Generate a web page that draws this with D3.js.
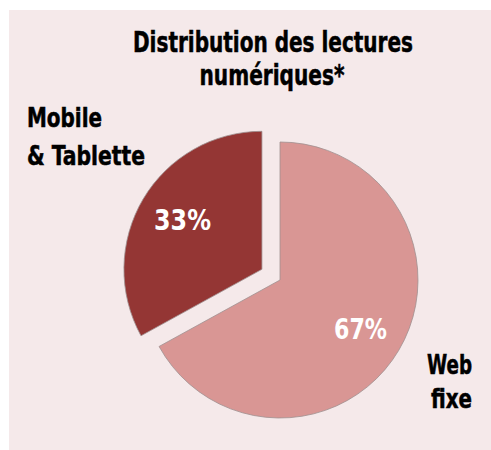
<!DOCTYPE html>
<html><head><meta charset="utf-8">
<script src="https://cdn.jsdelivr.net/npm/d3@7"></script>
<style>
html,body{margin:0;padding:0;background:#fff;}
svg{display:block;}
text{font-family:"Liberation Sans Narrow","DejaVu Sans Condensed","DejaVu Sans",sans-serif;font-weight:bold;font-stretch:condensed;}
</style></head>
<body>
<svg id="c" width="491" height="450"></svg>
<script>
const categories = ["Web fixe", "Mobile & Tablette"];
const values = [67, 33];
const valueLabels = ["67%", "33%"];
const colors = ["#d99694", "#943634"];
const titleLines = ["Distribution des lectures", "numériques*"];
const catLines = [["Web", "fixe"], ["Mobile", "& Tablette"]];

const svg = d3.select("#c");
svg.append("rect").attr("x", 9).attr("y", 10).attr("width", 490).attr("height", 440).attr("fill", "#f5e9ea");

// title
const titleSpec = [{x:273, y:52, w:280}, {x:272, y:85, w:145}];
titleLines.forEach((t, i) => {
  svg.append("text").attr("x", titleSpec[i].x).attr("y", titleSpec[i].y)
    .attr("text-anchor", "middle").attr("font-size", 28)
    .attr("stroke", "#000").attr("stroke-width", 0.5)
    .attr("textLength", titleSpec[i].w).attr("lengthAdjust", "spacingAndGlyphs")
    .text(t);
});

const cx = 280, cy = 280, r = 138, explode = 21;
const pie = d3.pie().sort(null).value(d => d)(values);
const arc = d3.arc().innerRadius(0).outerRadius(r);
const g = svg.append("g").attr("transform", `translate(${cx},${cy})`);

pie.forEach((p, i) => {
  const mid = (p.startAngle + p.endAngle) / 2;
  const off = i === 1 ? explode : 0;
  const dx = Math.sin(mid) * off, dy = -Math.cos(mid) * off;
  g.append("path").attr("d", arc(p)).attr("transform", `translate(${dx},${dy})`)
    .attr("fill", colors[i]).attr("stroke", "#a09090").attr("stroke-width", 0.8);
});

// value labels
const valSpec = [{x:360.5, y:339, w:53}, {x:182.5, y:230, w:57}];
valueLabels.forEach((t, i) => {
  svg.append("text").attr("x", valSpec[i].x).attr("y", valSpec[i].y)
    .attr("text-anchor", "middle").attr("font-size", 28).attr("fill", "#fff")
    .attr("textLength", valSpec[i].w).attr("lengthAdjust", "spacingAndGlyphs")
    .text(t);
});

// category labels
const catSpec = [
  [{x:427, y:374, w:45}, {x:431, y:408, w:41}],
  [{x:27, y:127, w:75}, {x:27, y:165, w:118}]
];
catLines.forEach((lines, i) => {
  lines.forEach((t, j) => {
    svg.append("text").attr("x", catSpec[i][j].x).attr("y", catSpec[i][j].y)
      .attr("font-size", 26).attr("fill", "#000")
      .attr("stroke", "#000").attr("stroke-width", 0.5)
      .attr("textLength", catSpec[i][j].w).attr("lengthAdjust", "spacingAndGlyphs")
      .text(t);
  });
});
</script>
</body></html>
